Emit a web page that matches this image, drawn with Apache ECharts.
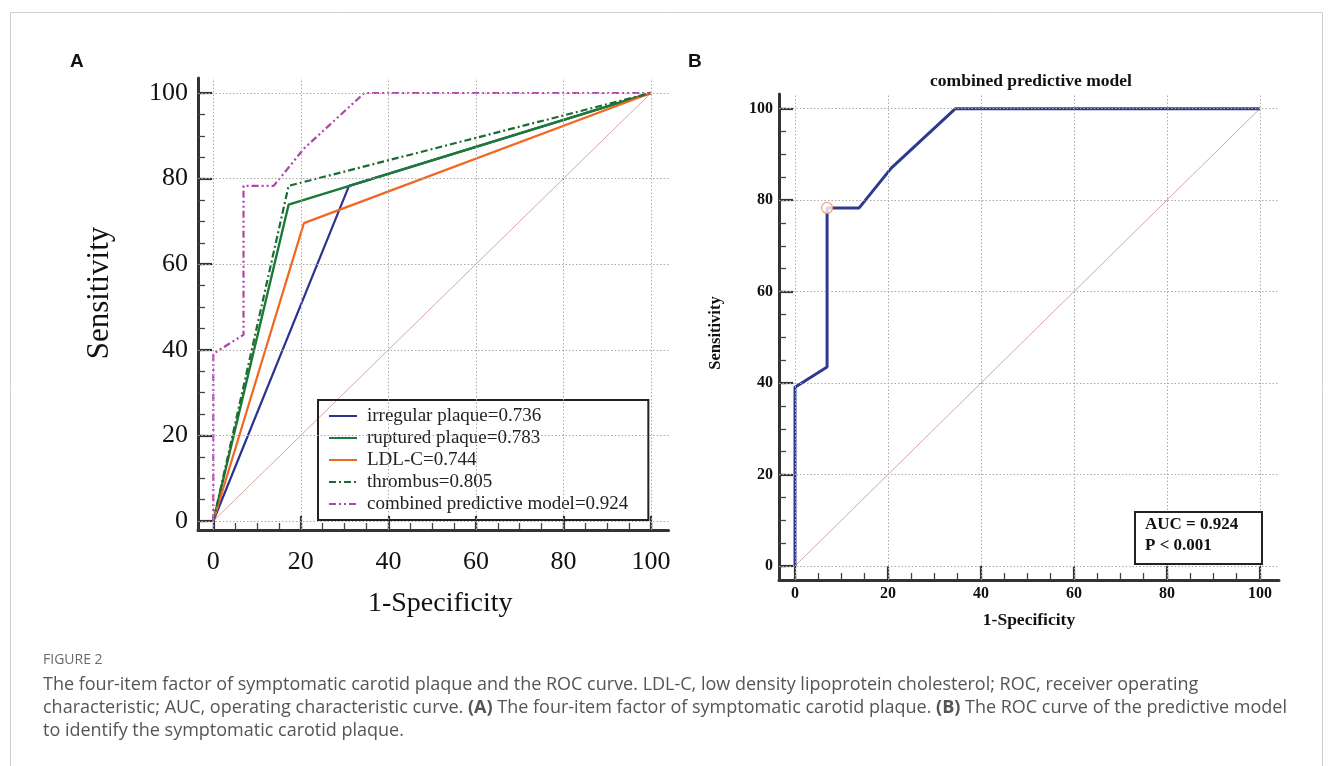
<!DOCTYPE html>
<html><head><meta charset="utf-8">
<script src="https://cdn.jsdelivr.net/npm/echarts@6/dist/echarts.min.js"></script>
<style>html,body{margin:0;padding:0;background:#fff}#c{width:1333px;height:766px}</style>
</head><body><div id="c"></div>
<script>
// ---- data ----
const majorTicks = [0, 20, 40, 60, 80, 100];
const minorTicks = [0,5,10,15,20,25,30,35,40,45,50,55,60,65,70,75,80,85,90,95,100];
const legendNames = ['irregular plaque=0.736','ruptured plaque=0.783','LDL-C=0.744','thrombus=0.805','combined predictive model=0.924'];
const irregular = [[0,0],[31.0,78.3],[100,100]];
const ruptured  = [[0,0],[17.2,73.9],[100,100]];
const ldlc      = [[0,0],[20.7,69.6],[100,100]];
const thrombus  = [[0,0],[17.2,78.3],[100,100]];
const combined  = [[0,0],[0,39.1],[6.9,43.5],[6.9,78.3],[13.8,78.3],[20.7,87.0],[34.5,100],[100,100]];
const cutoff    = [[6.9,78.3]];
const diagonal  = [[0,0],[100,100]];

const SERIF = 'Liberation Serif, Times New Roman, serif';
const SANS = 'Open Sans, Noto Sans, sans-serif';

function majorAxis(dim, grid, min, max, o){
  return {
    type:'value', gridIndex:grid, min:min, max:max, position: dim==='x'?'bottom':'left',
    axisLine:{show:true, onZero:false, lineStyle:{color:'#333', width:3}},
    axisTick:{show:true, inside:true, length:o.tick, customValues:majorTicks, lineStyle:{color:'#333', width:2.2}},
    axisLabel:{show:true, customValues:majorTicks, fontFamily:SERIF, fontSize:o.fs, fontWeight:o.fw, color:'#111', margin:o.margin},
    splitLine:{show:false},
    name:o.name || '', nameLocation:'middle', nameGap:o.gap || 0,
    nameTextStyle:{fontFamily:SERIF, fontSize:o.nfs || 12, fontWeight:o.fw, color:'#111', padding:o.npad || 0}
  };
}
function minorAxis(dim, grid, min, max, len){
  return {
    type:'value', gridIndex:grid, min:min, max:max, position: dim==='x'?'bottom':'left',
    axisLine:{show:false, onZero:false},
    axisTick:{show:true, inside:true, length:len, customValues:minorTicks, lineStyle:{color:'#444', width:1.3}},
    axisLabel:{show:false}, splitLine:{show:false}
  };
}
const gridStyle = {color:'#aaaaaa', width:1, type:[1.5,2]};
function gridMarks(){
  return {
    silent:true, symbol:'none', animation:false, label:{show:false},
    lineStyle:gridStyle,
    data: majorTicks.map(v=>({xAxis:v})).concat(majorTicks.map(v=>({yAxis:v})))
  };
}
function lineSeries(name, data, color, type, xi, w){
  return {name:name, type:'line', data:data, xAxisIndex:xi, yAxisIndex:xi, symbol:'none', showSymbol:false,
    lineStyle:{color:color, width:w, type:type}, itemStyle:{color:color}, z:3, animation:false};
}

const chart = echarts.init(document.getElementById('c'));
chart.setOption({
  backgroundColor:'#fff',
  animation:false,
  title:{text:'combined predictive model', left:1026, top:67, textAlign:'center',
    textStyle:{fontFamily:SERIF, fontSize:17.5, fontWeight:'bold', color:'#111'}},
  grid:[
    {left:198, top:78, width:470.5, height:452, containLabel:false},
    {left:779, top:94, width:500, height:486, containLabel:false}
  ],
  xAxis:[
    majorAxis('x',0,-3.5,104,{tick:14, fs:26, fw:'normal', margin:19, name:'1-Specificity', gap:60, nfs:28, npad:[0,0,0,14]}),
    minorAxis('x',0,-3.5,104,7),
    majorAxis('x',1,-3.44,104.1,{tick:14, fs:16, fw:'bold', margin:6, name:'1-Specificity', gap:31, nfs:17.5}),
    minorAxis('x',1,-3.44,104.1,7)
  ],
  yAxis:[
    majorAxis('y',0,-2.1,103.5,{tick:14, fs:26, fw:'normal', margin:10}),
    minorAxis('y',0,-2.1,103.5,7),
    majorAxis('y',1,-3.06,103.2,{tick:14, fs:16, fw:'bold', margin:6}),
    minorAxis('y',1,-3.06,103.2,7)
  ],
  legend:{
    data:legendNames, orient:'vertical', left:318, top:400,
    itemWidth:28, itemHeight:14, itemGap:2,
    padding:[6,20,6,10], borderColor:'#222', borderWidth:2,
    itemStyle:{opacity:0},
    textStyle:{fontFamily:SERIF, fontSize:19, lineHeight:20, color:'#222', padding:[0,0,0,5]},
    selectedMode:false
  },
  series:[
    {name:'diagA', type:'line', data:diagonal, xAxisIndex:0, yAxisIndex:0, symbol:'none',
      lineStyle:{color:'#c98f8c', width:0.8}, z:1, markLine:gridMarks()},
    lineSeries(legendNames[0], irregular, '#2b3290', 'solid', 0, 2.2),
    lineSeries(legendNames[1], ruptured, '#1b7a36', 'solid', 0, 2.4),
    lineSeries(legendNames[2], ldlc, '#f2661f', 'solid', 0, 2.2),
    lineSeries(legendNames[3], thrombus, '#1d6a34', [7,3,2,3], 0, 2.2),
    lineSeries(legendNames[4], combined, '#ae45a9', [7,3,2,3,2,3], 0, 2.2),
    {name:'diagB', type:'line', data:diagonal, xAxisIndex:2, yAxisIndex:2, symbol:'none',
      lineStyle:{color:'#c98f8c', width:0.8}, z:1, markLine:gridMarks()},
    lineSeries('combined predictive model', combined, '#2e3a8f', 'solid', 2, 3),
    {name:'cutoff', type:'scatter', data:cutoff, xAxisIndex:2, yAxisIndex:2, symbol:'circle', symbolSize:11,
      itemStyle:{color:'#ffffff', borderColor:'#f0955e', borderWidth:1.3}, z:5}
  ],
  graphic:[
    {type:'rect', shape:{x:10.5, y:12.5, width:1312, height:800}, style:{fill:'none', stroke:'#cfcfcf', lineWidth:1}, silent:true},
    {type:'text', style:{text:'A', x:70, y:62, verticalAlign:'middle', fontFamily:'Liberation Sans, Arial, sans-serif', fontSize:19, fontWeight:'bold', fill:'#111'}},
    {type:'text', style:{text:'B', x:688, y:62, verticalAlign:'middle', fontFamily:'Liberation Sans, Arial, sans-serif', fontSize:19, fontWeight:'bold', fill:'#111'}},
    {type:'text', x:100, y:293, rotation:Math.PI/2,
      style:{text:'Sensitivity', x:0, y:0, align:'center', verticalAlign:'middle', fontFamily:SERIF, fontSize:31, fill:'#111'}},
    {type:'text', x:716, y:333, rotation:Math.PI/2,
      style:{text:'Sensitivity', x:0, y:0, align:'center', verticalAlign:'middle', fontFamily:SERIF, fontSize:16.5, fontWeight:'bold', fill:'#111'}},
    {type:'rect', shape:{x:1135, y:512, width:127, height:52}, style:{fill:'#fff', stroke:'#222', lineWidth:2}, z:10},
    {type:'text', z:11, style:{text:'AUC = 0.924', x:1145, y:525, verticalAlign:'middle', fontFamily:SERIF, fontSize:17, fontWeight:'bold', fill:'#111'}},
    {type:'text', z:11, style:{text:'P < 0.001', x:1145, y:546, verticalAlign:'middle', fontFamily:SERIF, fontSize:17, fontWeight:'bold', fill:'#111'}},
    {type:'text', style:{text:'FIGURE 2', x:43, y:660, verticalAlign:'middle', fontFamily:SANS, fontSize:14, fill:'#6a6a6a'}},
    {type:'text', style:{text:'The four-item factor of symptomatic carotid plaque and the ROC curve. LDL-C, low density lipoprotein cholesterol; ROC, receiver operating',
      x:43, y:685, verticalAlign:'middle', fontFamily:SANS, fontSize:18, fill:'#555'}},
    {type:'text', style:{text:'characteristic; AUC, operating characteristic curve. {b|(A)} The four-item factor of symptomatic carotid plaque. {b|(B)} The ROC curve of the predictive model',
      x:43, y:708, verticalAlign:'middle', fontFamily:SANS, fontSize:18, fill:'#555',
      rich:{b:{fontFamily:SANS, fontSize:18, fontWeight:'bold', fill:'#555'}}}},
    {type:'text', style:{text:'to identify the symptomatic carotid plaque.',
      x:43, y:731, verticalAlign:'middle', fontFamily:SANS, fontSize:18, fill:'#555'}}
  ]
});
</script></body></html>
